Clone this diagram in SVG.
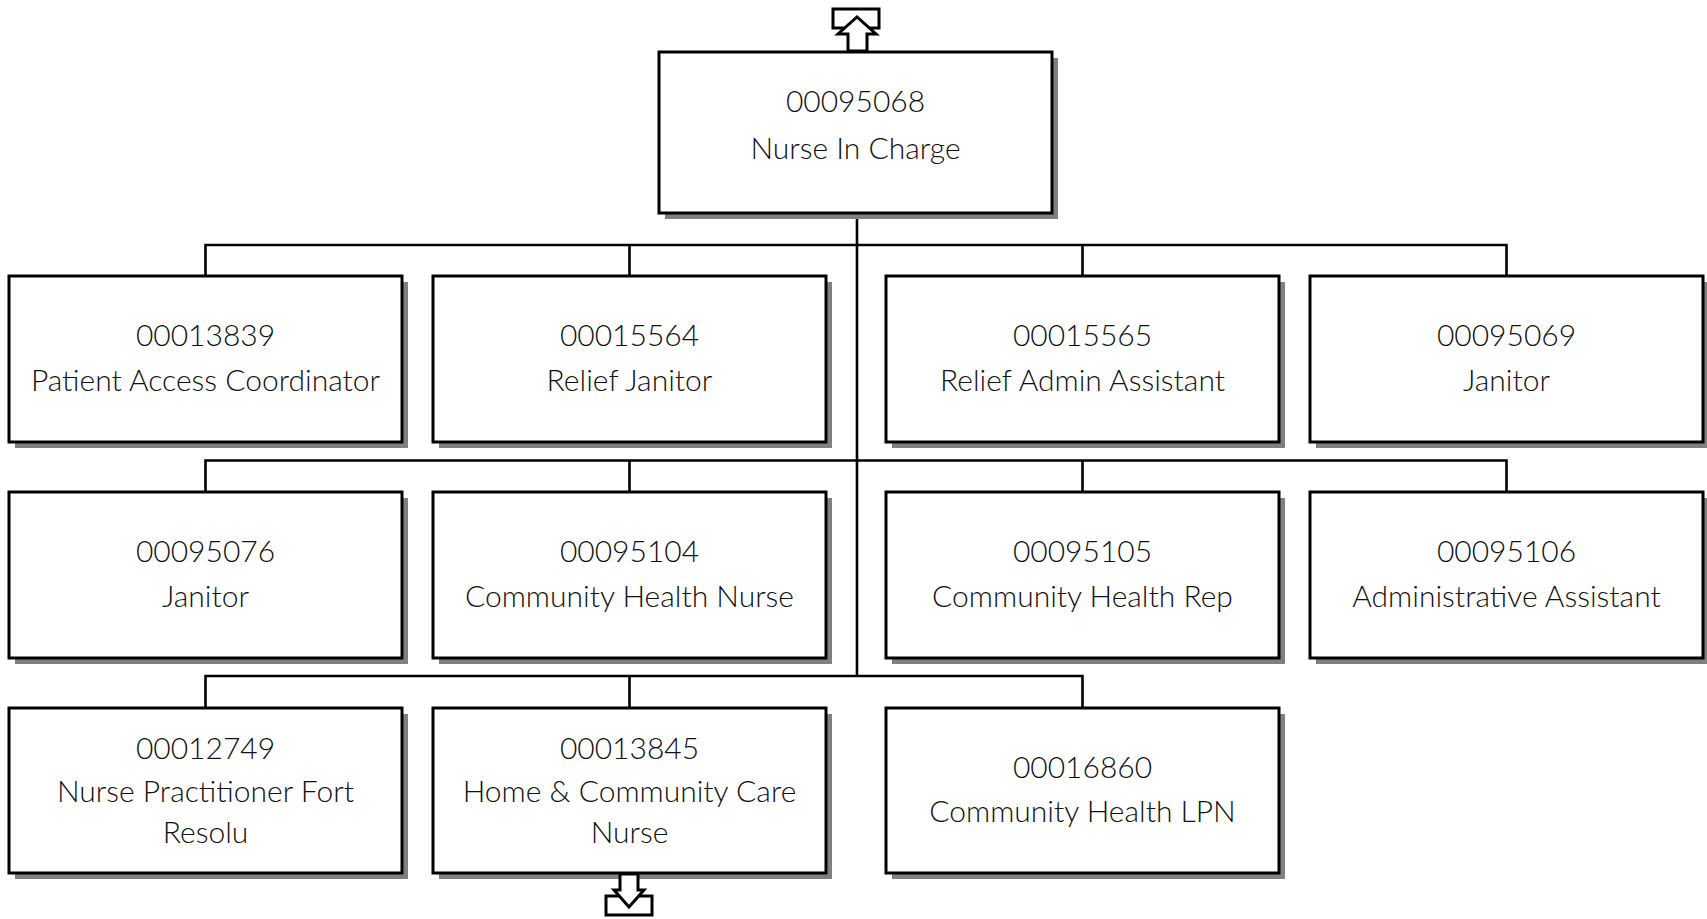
<svg xmlns="http://www.w3.org/2000/svg" width="1707" height="919" viewBox="0 0 1707 919">
<style>
.shadow{fill:#808080;stroke:none}
.box{fill:#fff;stroke:#000;stroke-width:3}
.t{font-family:Lato,"Liberation Sans",Arial,sans-serif;font-weight:300;font-size:30px;fill:#111;text-anchor:middle}
.c{fill:none;stroke:#000;stroke-width:2.6}
.arr{fill:#fff;stroke:#000;stroke-width:3;stroke-linejoin:miter}
</style>
<rect width="1707" height="919" fill="#fff"/>
<g id="connectors">
<path class="c" d="M857 213V676M205.5 276V245H1506.5V276M629.5 245V276M1082.5 245V276M205.5 492V460.5H1506.5V492M629.5 460.5V492M1082.5 460.5V492M205.5 708V676H1082.5V708M629.5 676V708"/>
</g>
<g id="up-arrow">
<rect class="arr" x="833" y="9" width="46" height="19"/>
<polygon class="arr" points="848,51 848,34 838,34 857,17 876,34 867,34 867,51"/>
</g>
<g id="n00095068">
<rect class="shadow" x="665" y="58" width="393" height="161"/>
<rect class="box" x="659" y="52" width="393" height="161"/>
<text class="t" x="855.5" y="112">00095068</text>
<text class="t" x="855.5" y="159">Nurse In Charge</text>
</g>
<g id="n00013839">
<rect class="shadow" x="15" y="282" width="393" height="166"/>
<rect class="box" x="9" y="276" width="393" height="166"/>
<text class="t" x="205.5" y="346">00013839</text>
<text class="t" x="205.5" y="391">Patient Access Coordinator</text>
</g>
<g id="n00015564">
<rect class="shadow" x="439" y="282" width="393" height="166"/>
<rect class="box" x="433" y="276" width="393" height="166"/>
<text class="t" x="629.5" y="346">00015564</text>
<text class="t" x="629.5" y="391">Relief Janitor</text>
</g>
<g id="n00015565">
<rect class="shadow" x="892" y="282" width="393" height="166"/>
<rect class="box" x="886" y="276" width="393" height="166"/>
<text class="t" x="1082.5" y="346">00015565</text>
<text class="t" x="1082.5" y="391">Relief Admin Assistant</text>
</g>
<g id="n00095069">
<rect class="shadow" x="1316" y="282" width="393" height="166"/>
<rect class="box" x="1310" y="276" width="393" height="166"/>
<text class="t" x="1506.5" y="346">00095069</text>
<text class="t" x="1506.5" y="391">Janitor</text>
</g>
<g id="n00095076">
<rect class="shadow" x="15" y="498" width="393" height="166"/>
<rect class="box" x="9" y="492" width="393" height="166"/>
<text class="t" x="205.5" y="562">00095076</text>
<text class="t" x="205.5" y="607">Janitor</text>
</g>
<g id="n00095104">
<rect class="shadow" x="439" y="498" width="393" height="166"/>
<rect class="box" x="433" y="492" width="393" height="166"/>
<text class="t" x="629.5" y="562">00095104</text>
<text class="t" x="629.5" y="607">Community Health Nurse</text>
</g>
<g id="n00095105">
<rect class="shadow" x="892" y="498" width="393" height="166"/>
<rect class="box" x="886" y="492" width="393" height="166"/>
<text class="t" x="1082.5" y="562">00095105</text>
<text class="t" x="1082.5" y="607">Community Health Rep</text>
</g>
<g id="n00095106">
<rect class="shadow" x="1316" y="498" width="393" height="166"/>
<rect class="box" x="1310" y="492" width="393" height="166"/>
<text class="t" x="1506.5" y="562">00095106</text>
<text class="t" x="1506.5" y="607">Administrative Assistant</text>
</g>
<g id="n00012749">
<rect class="shadow" x="15" y="714" width="393" height="165"/>
<rect class="box" x="9" y="708" width="393" height="165"/>
<text class="t" x="205.5" y="759">00012749</text>
<text class="t" x="205.5" y="802">Nurse Practitioner Fort</text>
<text class="t" x="205.5" y="843">Resolu</text>
</g>
<g id="n00013845">
<rect class="shadow" x="439" y="714" width="393" height="165"/>
<rect class="box" x="433" y="708" width="393" height="165"/>
<text class="t" x="629.5" y="759">00013845</text>
<text class="t" x="629.5" y="802">Home &amp; Community Care</text>
<text class="t" x="629.5" y="843">Nurse</text>
</g>
<g id="n00016860">
<rect class="shadow" x="892" y="714" width="393" height="165"/>
<rect class="box" x="886" y="708" width="393" height="165"/>
<text class="t" x="1082.5" y="778">00016860</text>
<text class="t" x="1082.5" y="822">Community Health LPN</text>
</g>
<g id="down-arrow">
<rect class="arr" x="606" y="896" width="46" height="19"/>
<polygon class="arr" points="620,874 620,890 614,890 629,907 644,890 638,890 638,874"/>
</g>
</svg>
